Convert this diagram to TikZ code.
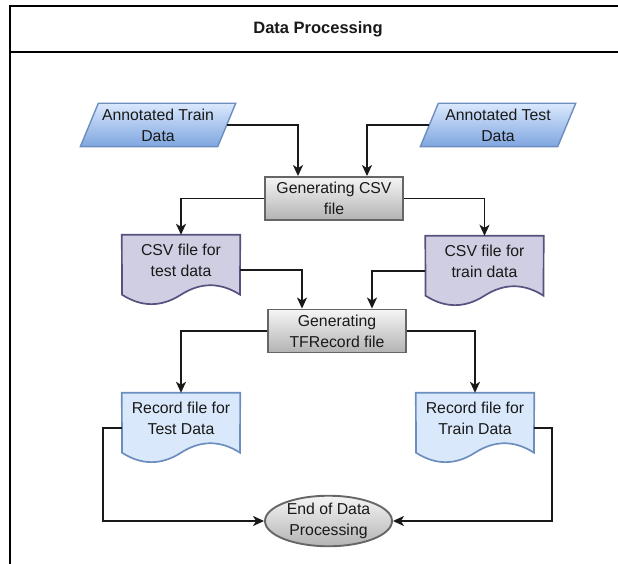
\documentclass[tikz,border=0pt]{standalone}
\usepackage{fontspec}
\setmainfont{Liberation Sans}
\usetikzlibrary{arrows.meta,calc,shapes.geometric,backgrounds}

\definecolor{blueFill}{HTML}{DAE8FC}
\definecolor{blueDark}{HTML}{7EA6E0}
\definecolor{blueLine}{HTML}{6C8EBF}
\definecolor{purpleFill}{HTML}{D0CEE2}
\definecolor{purpleLine}{HTML}{56517E}
\definecolor{grayTop}{HTML}{F5F5F5}
\definecolor{grayBottom}{HTML}{B3B3B3}
\definecolor{grayLine}{HTML}{666666}

% parallelogram (data) outline around a named rectangular node
\newcommand\paralshape[2]{%
  \draw[#2] ([xshift=9pt]#1.north west) -- ([xshift=9pt]#1.north east)
    -- ([xshift=-9pt]#1.south east) -- ([xshift=-9pt]#1.south west) -- cycle;}

% document outline (wavy bottom) around a named node of width 118pt
\newcommand\docshape[2]{%
  \draw[#2] (#1.north west) -- (#1.north east)
    -- ($(#1.south)+(59,-10.5)$)
    .. controls ($(#1.south)+(39.3,-23.1)$) and ($(#1.south)+(19.7,-23.1)$) ..
    ($(#1.south)+(0,-10.5)$)
    .. controls ($(#1.south)+(-19.7,2.1)$) and ($(#1.south)+(-39.3,2.1)$) ..
    ($(#1.south)+(-59,-10.5)$) -- cycle;}

\begin{document}
\begin{tikzpicture}[x=1pt,y=-1pt,
  txt/.style={font={\fontsize{15.8}{21}\selectfont}, text=black!90, align=center},
  paral/.style={txt, minimum width=137pt, minimum height=43pt, inner sep=0pt},
  parafill/.style={draw=blueLine, line width=1.4pt, top color=blueFill, bottom color=blueDark},
  docbox/.style={minimum width=118pt, minimum height=70pt, inner sep=0pt},
  csvfill/.style={draw=purpleLine, line width=1.7pt, fill=purpleFill},
  recfill/.style={draw=blueLine, line width=1.7pt, fill=blueFill},
  proc/.style={txt, draw=grayLine, line width=1.9pt, top color=grayTop, bottom color=grayBottom,
    minimum width=138pt, minimum height=43pt, inner sep=0pt},
  term/.style={txt, ellipse, draw=grayLine, line width=1.9pt, top color=grayTop, bottom color=grayBottom,
    minimum width=127pt, minimum height=42pt, inner sep=0pt},
  conn/.style={line width=1.8pt, draw=black!90, -{Stealth[length=11pt,width=10pt,inset=3pt]}},
  lane/.style={line width=2.6pt, draw=black}]

\useasboundingbox (0,0) rectangle (618,564);

% swimlane frame and title
\draw[lane] (625,6) -- (10,6) -- (10,570);
\draw[lane] (10,52) -- (625,52);
\node[txt, font={\fontsize{16.5}{21}\selectfont\bfseries}] (title) at (318,29) {Data Processing};

% inputs
\node[paral] (antrain) at (158,125) {Annotated Train\\Data};
\node[paral] (antest) at (498,125) {Annotated Test\\Data};

% processes
\node[proc] (gencsv) at (334,198.5) {Generating CSV\\file};
\node[proc] (gentf) at (337,331) {Generating\\TFRecord file};

% documents
\node[docbox] (csvtest) at (181,270) {};
\node[docbox] (csvtrain) at (484.5,271) {};
\node[docbox] (rectest) at (181,428) {};
\node[docbox] (rectrain) at (475,428) {};

\begin{scope}[on background layer]
  \paralshape{antrain}{parafill}
  \paralshape{antest}{parafill}
  \docshape{csvtest}{csvfill}
  \docshape{csvtrain}{csvfill}
  \docshape{rectest}{recfill}
  \docshape{rectrain}{recfill}
\end{scope}

\node[txt] (csvtesttext) at ($(csvtest)+(0,-10)$) {CSV file for\\test data};
\node[txt] (csvtraintext) at ($(csvtrain)+(0,-10)$) {CSV file for\\train data};
\node[txt] (recttesttext) at ($(rectest)+(0,-10)$) {Record file for\\Test Data};
\node[txt] (recttraintext) at ($(rectrain)+(0,-10)$) {Record file for\\Train Data};

% terminator
\node[term] (endp) at (328.5,521) {End of Data\\Processing};

% connectors
\draw[conn] (antrain.east) -| ([xshift=-36pt]gencsv.north);
\draw[conn] (antest.west) -| ([xshift=33pt]gencsv.north);
\draw[conn] (gencsv.west) -| (csvtest.north);
\draw[conn] (gencsv.east) -| (csvtrain.north);
\draw[conn] (csvtest.east) -| ([xshift=-35pt]gentf.north);
\draw[conn] (csvtrain.west) -| ([xshift=35pt]gentf.north);
\draw[conn] (gentf.west) -| (rectest.north);
\draw[conn] (gentf.east) -| (rectrain.north);
\draw[conn] (rectest.west) -- ++(-19,0) |- (endp.west);
\draw[conn] (rectrain.east) -- ++(18,0) |- (endp.east);
\end{tikzpicture}
\end{document}
